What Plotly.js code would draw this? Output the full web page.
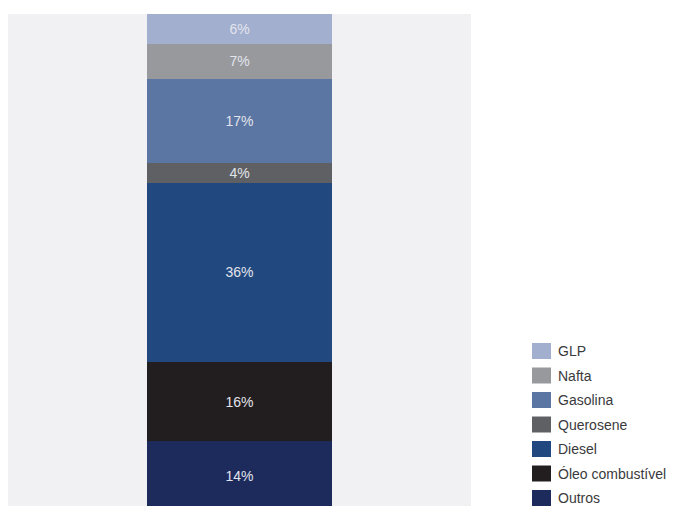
<!DOCTYPE html>
<html>
<head>
<meta charset="utf-8">
<script src="https://cdn.plot.ly/plotly-3.0.1.min.js"></script>
<style>html,body{margin:0;padding:0;background:#fff;}#chart{width:675px;height:506px;}</style>
</head>
<body>
<div id="chart"></div>
<script>
// Data (top of bar to bottom)
const categories = ["GLP", "Nafta", "Gasolina", "Querosene", "Diesel", "Óleo combustível", "Outros"];
const shares = [6, 7, 17, 4, 36, 16, 14];
const colors = ["#a2afcf", "#98999c", "#5c76a3", "#5f6063", "#22497f", "#221e1f", "#1c2b5c"];
const barLabel = ["Total"];

const W = 675, H = 506;
const ml = 8, mr = 204, mt = 14, mb = 0;
const pw = W - ml - mr, ph = H - mt - mb;
const px2x = p => (p - ml) / pw;
const py2y = p => 1 - (p - mt) / ph;

// stack from bottom (Outros) to top (GLP)
const traces = [];
for (let i = categories.length - 1; i >= 0; i--) {
  traces.push({
    type: "bar",
    name: categories[i],
    x: barLabel,
    y: [shares[i]],
    text: [shares[i] + "%"],
    textposition: "inside",
    insidetextanchor: "middle",
    constraintext: "none",
    textfont: {family: "Liberation Sans, Arial, sans-serif", size: 14, color: "#e2e4ec"},
    marker: {color: colors[i], line: {width: 0}},
    width: 0.4,
    hoverinfo: "skip"
  });
}

const shapes = [], annotations = [];
const legTop = 351, legStep = 24.5, swW = 19, swH = 16, swX = 532, txtX = 556;
categories.forEach((c, i) => {
  const cy = legTop + i * legStep;
  shapes.push({
    type: "rect", xref: "paper", yref: "paper",
    x0: px2x(swX), x1: px2x(swX + swW),
    y0: py2y(cy - swH / 2), y1: py2y(cy + swH / 2),
    fillcolor: colors[i], line: {width: 0}
  });
  annotations.push({
    xref: "paper", yref: "paper", x: px2x(txtX), y: py2y(cy),
    xanchor: "left", yanchor: "middle", showarrow: false,
    text: c,
    font: {family: "Liberation Sans Narrow, Liberation Sans, Arial, sans-serif", size: 14, color: "#3a3a3c"}
  });
});

const layout = {
  width: W, height: H,
  margin: {l: ml, r: mr, t: mt, b: mb, pad: 0},
  paper_bgcolor: "#ffffff",
  plot_bgcolor: "#f1f1f3",
  barmode: "stack",
  showlegend: false,
  xaxis: {visible: false, range: [-0.5, 0.5], fixedrange: true},
  yaxis: {visible: false, range: [1.0, 100], fixedrange: true},
  shapes: shapes,
  annotations: annotations,
  uniformtext: {mode: false}
};

Plotly.newPlot("chart", traces, layout, {displayModeBar: false, staticPlot: true});
</script>
</body>
</html>
